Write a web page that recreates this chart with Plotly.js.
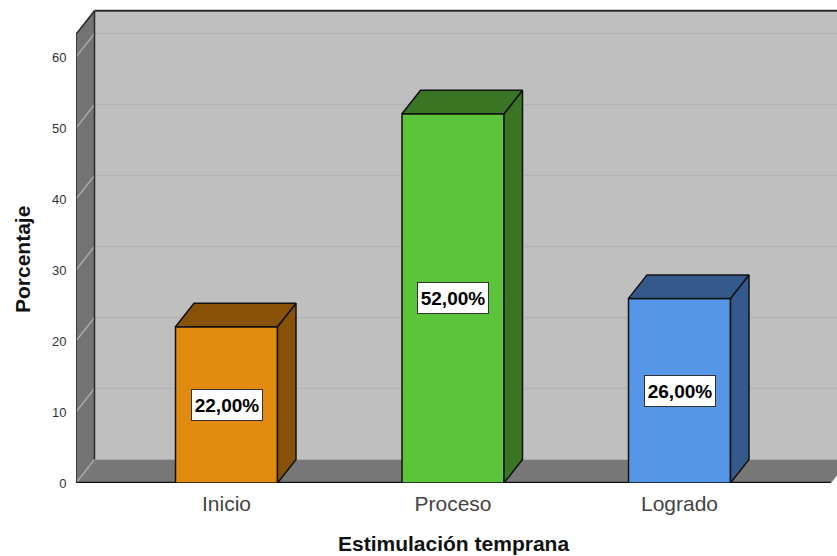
<!DOCTYPE html>
<html><head><meta charset="utf-8">
<script src="https://cdn.plot.ly/plotly-3.0.1.min.js"></script>
<style>html,body{margin:0;padding:0;background:#fff}</style></head>
<body><div id="chart" style="width:837px;height:556px"></div>
<script>
const categories = ["Inicio", "Proceso", "Logrado"];
const values = [22, 52, 26];
const valueLabels = ["22,00%", "52,00%", "26,00%"];
const yTicks = [0, 10, 20, 30, 40, 50, 60];
const frontColors = ["#E08A0F", "#5CC43A", "#5596E6"];
const sideColors = ["#875208", "#3A7523", "#335A8A"];
const xTitle = "Estimulación temprana";
const yTitle = "Porcentaje";
const wallTop = 63.2;

const W = 837, H = 556, mL = 76, mT = 8, mB = 73;
const pxX = 226.5, pxY = 7.1;
const xMin = -(226.5 - mL) / pxX, xMax = xMin + (W - mL) / pxX;
const yMax = (H - mB - mT) / pxY;
const dx = 18.5 / pxX, dy = 23.5 / pxY, bw = 102 / pxX;
const edge = "#111111";
const font = "Liberation Sans, Arial, sans-serif";

const poly = (xs, ys, fill, color, width) => ({
  type: "path", layer: "below", xref: "x", yref: "y",
  path: xs.map((x, i) => (i ? "L" : "M") + x + "," + ys[i]).join(" ") + " Z",
  fillcolor: fill, line: {color: color || fill, width: width === undefined ? 0 : width}
});
const seg = (x0, y0, x1, y1, color, width) => ({
  type: "line", layer: "below", xref: "x", yref: "y", x0, y0, x1, y1, line: {color, width}
});

const xb = xMin + dx;
const xFloor = xMin + (W - 6 - mL) / pxX;
const shapes = [
  poly([xb, xMax, xMax, xb], [dy, dy, wallTop + dy, wallTop + dy], "#BFBFBF"),
  poly([xMin, xFloor, xFloor + dx, xb], [0, 0, dy, dy], "#787878"),
  poly([xMin, xb, xb, xMin], [0, dy, wallTop + dy, wallTop], "#737373")
];
yTicks.slice(1).forEach(t => {
  shapes.push(seg(xb, t + dy, xMax, t + dy, "#B4B4B4", 1.5));
  shapes.push(seg(xMin, t, xb, t + dy, "#A8A8A8", 1.5));
});
shapes.push(seg(xMin, 0, xb, dy, "#A8A8A8", 1.5));
shapes.push(seg(xb, dy, xb, wallTop + dy, "#2a2a2a", 1.5));
shapes.push(seg(xMin, 0, xMin, wallTop, "#2a2a2a", 1.5));
shapes.push(seg(xMin, wallTop, xb, wallTop + dy, "#2a2a2a", 1.5));
shapes.push(seg(xb, wallTop + dy, xMax, wallTop + dy, "#2a2a2a", 2));
shapes.push(seg(xMin, 0, xFloor, 0, "#111111", 2.5));

const traces = [{
  type: "bar", x: categories.map((_, i) => i), y: values, width: bw,
  marker: {color: frontColors, line: {color: edge, width: 1.5}}, hoverinfo: "skip"
}];
values.forEach((v, i) => {
  const l = i - bw / 2, r = i + bw / 2;
  traces.push({
    type: "scatter", mode: "lines", fill: "toself", fillcolor: sideColors[i],
    line: {color: edge, width: 1.5}, hoverinfo: "skip",
    x: [r, r + dx, r + dx, r, r], y: [0, dy, v + dy, v, 0]
  });
  traces.push({
    type: "scatter", mode: "lines", fill: "toself", fillcolor: sideColors[i],
    line: {color: edge, width: 1.5}, hoverinfo: "skip",
    x: [l, l + dx, r + dx, r, l], y: [v, v + dy, v + dy, v, v]
  });
});

const annotations = values.map((v, i) => ({
  x: i, y: v / 2, xref: "x", yref: "y", text: valueLabels[i], showarrow: false,
  font: {family: font, size: 19, color: "#000", weight: 700},
  bgcolor: "#fff", bordercolor: "#333", borderwidth: 1, borderpad: 1, width: 68, height: 28
}));
annotations.push({
  xref: "paper", yref: "paper", x: (453 - mL) / (W - mL), y: -(543.5 - (H - mB)) / (H - mB - mT),
  xanchor: "center", yanchor: "middle", showarrow: false, text: xTitle,
  font: {family: font, size: 21, color: "#111", weight: 700}
});
annotations.push({
  xref: "paper", yref: "paper", x: -(mL - 22.5) / (W - mL), y: ((H - mB) - 259.5) / (H - mB - mT),
  xanchor: "center", yanchor: "middle", showarrow: false, text: yTitle, textangle: -90,
  font: {family: font, size: 21, color: "#111", weight: 700}
});

Plotly.newPlot("chart", traces, {
  width: W, height: H, showlegend: false, paper_bgcolor: "#fff", plot_bgcolor: "#fff",
  margin: {l: mL, r: 0, t: mT, b: mB, pad: 0},
  xaxis: {
    range: [xMin, xMax], tickmode: "array", tickvals: categories.map((_, i) => i), ticktext: categories,
    showgrid: false, zeroline: false, showline: false,
    ticks: "outside", ticklen: 2, tickcolor: "rgba(0,0,0,0)",
    tickfont: {family: font, size: 21, color: "#444"}
  },
  yaxis: {
    range: [0, yMax], tickmode: "array", tickvals: yTicks,
    showgrid: false, zeroline: false, showline: false,
    ticks: "outside", ticklen: 6, tickcolor: "rgba(0,0,0,0)",
    tickfont: {family: font, size: 13, color: "#333"}
  },
  shapes, annotations
}, {displayModeBar: false, staticPlot: true});
</script></body></html>
